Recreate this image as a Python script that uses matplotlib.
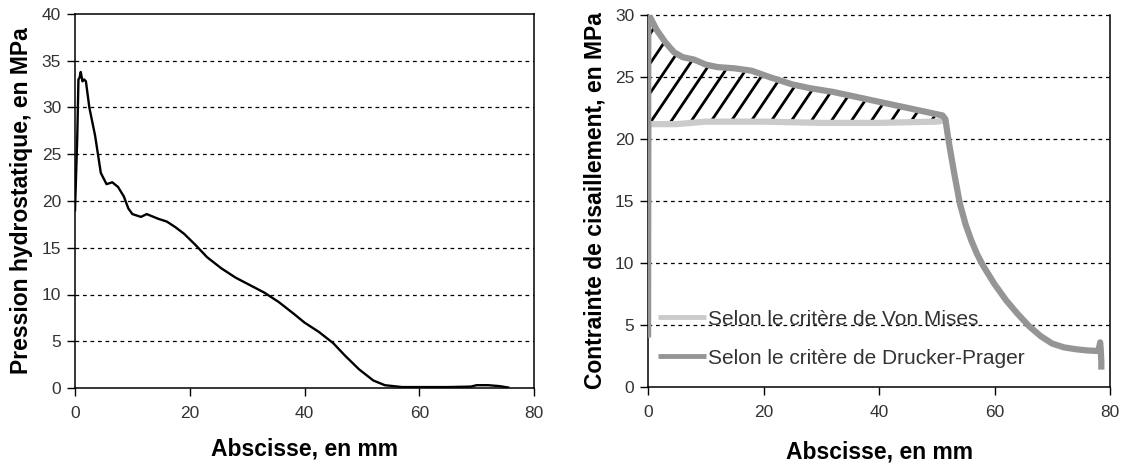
import matplotlib
matplotlib.use("Agg")
import matplotlib.pyplot as plt
from matplotlib.collections import LineCollection
import numpy as np

plt.rcParams['font.family'] = ['Liberation Sans', 'DejaVu Sans']

# Left chart: hydrostatic pressure
x_p = [0, 0.2, 0.4, 0.6, 0.8, 1.0, 1.3, 1.6, 1.9, 2.5, 3.5, 4.5, 5.5, 6.5, 7.5, 8.5, 9.3, 10, 11.5,
       12.5, 14.5, 16, 17.5, 19, 21, 23, 25.5, 28, 30.5, 33, 35.5, 38, 40, 42.5, 45, 47, 49.5,
       52, 54, 57, 65, 69, 70, 72, 74, 75.5]
y_p = [19, 23, 27, 33, 33.2, 33.8, 32.8, 33.0, 32.8, 30, 27, 23, 21.8, 22, 21.5, 20.5, 19.2, 18.6, 18.3,
       18.6, 18.1, 17.8, 17.2, 16.5, 15.3, 14.0, 12.8, 11.8, 11.0, 10.2, 9.2, 8.0, 7.0, 6.0, 4.8, 3.5, 2.0,
       0.8, 0.3, 0.1, 0.1, 0.15, 0.3, 0.3, 0.2, 0.05]

# Right chart: shear stress
x_dp = [0, 0.05, 0.5, 1.5, 3, 4.5, 6, 8, 10, 12, 15, 18, 21, 25, 28, 32, 36, 40, 44, 48, 51, 51.5,
        52, 53, 54, 55, 56, 57, 58, 60, 62, 64, 66, 68, 70, 72, 74, 76, 78, 78.3, 78.4, 78.5, 78.5]
y_dp = [4, 30, 29.7, 28.8, 27.8, 27.0, 26.6, 26.4, 26.0, 25.8, 25.7, 25.5, 25.0, 24.4, 24.1, 23.8, 23.4,
        23.0, 22.6, 22.2, 21.9, 21.6, 20.0, 17.3, 14.8, 13.1, 11.8, 10.7, 9.8, 8.3, 7.0, 5.9, 4.9, 4.1,
        3.5, 3.2, 3.05, 2.95, 2.9, 3.6, 3.0, 2.0, 1.4]
x_vm = [0, 0.05, 0.5, 5, 10, 20, 30, 40, 50, 51.3, 51.5]
y_vm = [4, 21.0, 21.2, 21.2, 21.4, 21.4, 21.3, 21.3, 21.4, 21.5, 21.6]
hatch_x = [0.5, 1.5, 3, 4.5, 6, 8, 10, 12, 15, 18, 21, 25, 28, 32, 36, 40, 44, 48, 51]
hatch_top = [29.7, 28.8, 27.8, 27.0, 26.6, 26.4, 26.0, 25.8, 25.7, 25.5, 25.0, 24.4, 24.1, 23.8, 23.4,
             23.0, 22.6, 22.2, 21.9]
vm_level = 21.3

xticks = [0, 20, 40, 60, 80]
label_vm = "Selon le critère de Von Mises"
label_dp = "Selon le critère de Drucker-Prager"

fig = plt.figure(figsize=(11.26, 4.65), dpi=100)
ax1 = fig.add_axes([75/1126, 77/465, 459/1126, 374/465])
ax2 = fig.add_axes([648/1126, 78/465, 462/1126, 372/465])

tick_color = '#333333'
for ax in (ax1, ax2):
    ax.tick_params(axis='both', direction='out', length=6, width=1, labelsize=12.5,
                   labelcolor=tick_color)
    ax.tick_params(axis='x', pad=7)
    ax.tick_params(axis='y', pad=4)
    for s in ax.spines.values():
        s.set_linewidth(1.1)

# Left
ax1.plot(x_p, y_p, color='black', lw=1.7)
ax1.set_xlim(0, 80)
ax1.set_ylim(0, 40)
ax1.set_xticks(xticks)
ax1.set_yticks(range(0, 41, 5))
for v in range(5, 40, 5):
    ax1.axhline(v, color='black', lw=0.9, ls=(0, (3, 3)), zorder=0)
ax1.set_xlabel("Abscisse, en mm", fontsize=16.5, fontweight='bold', labelpad=12)
ax1.set_ylabel("Pression hydrostatique, en MPa", fontsize=16.5, fontweight='bold', labelpad=6)

# Right
ax2.set_xlim(0, 80)
ax2.set_ylim(0, 30)
region = ax2.fill_between(hatch_x, vm_level, hatch_top, facecolor='none', lw=0)

# hatch lines (steeper than 45 deg), clipped to the region
px_x = 462 / 80.0   # pixels per x unit
px_y = 372 / 30.0   # pixels per y unit
ang = np.deg2rad(56)
L = 200.0
dxd = L * np.cos(ang) / px_x
dyd = L * np.sin(ang) / px_y
step = 20.0 / px_x
starts = np.arange(0.35 - 12 * step, 52, step)
segs = [[(s, vm_level), (s + dxd, vm_level + dyd)] for s in starts]
lc = LineCollection(segs, colors='black', linewidths=2.0, zorder=2)
ax2.add_collection(lc)
lc.set_clip_path(region.get_paths()[0], ax2.transData)

ax2.plot(x_vm, y_vm, color='#cbcbcb', lw=4.5, label=label_vm, solid_capstyle='butt', zorder=3)
ax2.plot(x_dp, y_dp, color='#959595', lw=4.5, label=label_dp, solid_capstyle='butt', zorder=3)
ax2.set_xticks(xticks)
ax2.set_yticks(range(0, 31, 5))
ax2.spines['top'].set_visible(False)
for v in range(5, 31, 5):
    ax2.axhline(v, color='black', lw=0.9, ls=(0, (3, 3)), zorder=0, clip_on=False)
ax2.set_xlabel("Abscisse, en mm", fontsize=16.5, fontweight='bold', labelpad=15)
ax2.set_ylabel("Contrainte de cisaillement, en MPa", fontsize=16.5, fontweight='bold', labelpad=6)
leg = ax2.legend(loc='center left', bbox_to_anchor=(10/462, 0.13), frameon=False, fontsize=15,
                 handlelength=2.3, handletextpad=0.1, labelspacing=0.95, borderaxespad=0,
                 borderpad=0)
for t in leg.get_texts():
    t.set_color('#333333')
for h in leg.get_lines():
    h.set_linewidth(3.5)

fig.savefig("out.png", dpi=100)
